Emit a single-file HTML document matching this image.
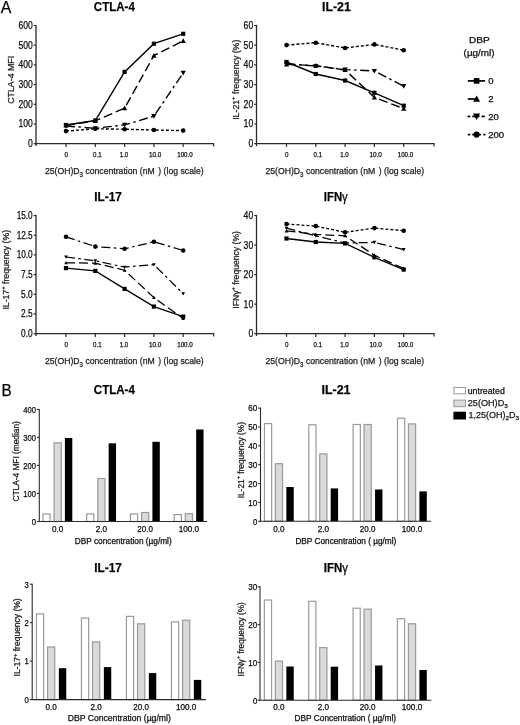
<!DOCTYPE html>
<html><head><meta charset="utf-8"><style>
html,body{margin:0;padding:0;background:#fff;}
body{width:520px;height:725px;overflow:hidden;font-family:"Liberation Sans",sans-serif;}
svg{display:block;will-change:transform;}
text{font-family:"Liberation Sans",sans-serif;stroke:#1a1a1a;stroke-width:0.25px;}
</style></head><body>
<svg width="520" height="725" viewBox="0 0 520 725" font-family="Liberation Sans, sans-serif">
<defs><pattern id="hatch" width="2" height="2" patternUnits="userSpaceOnUse"><rect width="2" height="2" fill="#e2e2e2"/><rect width="1" height="1" fill="#d2d2d2"/><rect x="1" y="1" width="1" height="1" fill="#d2d2d2"/></pattern></defs>
<rect width="520" height="725" fill="#fff"/>
<text x="0.70" y="12.80" font-size="16.2" textLength="10.60" lengthAdjust="spacingAndGlyphs">A</text>
<text x="1.40" y="395.70" font-size="15.8" textLength="10.20" lengthAdjust="spacingAndGlyphs">B</text>
<line x1="36.00" y1="24.90" x2="36.00" y2="146.10" stroke="#2b2b2b" stroke-width="1.3"/>
<line x1="35.40" y1="143.70" x2="213.60" y2="143.70" stroke="#2b2b2b" stroke-width="1.3"/>
<line x1="213.60" y1="143.10" x2="213.60" y2="146.50" stroke="#2b2b2b" stroke-width="1.2"/>
<line x1="33.70" y1="25.50" x2="36.00" y2="25.50" stroke="#2b2b2b" stroke-width="1.2"/>
<text x="32.70" y="28.95" font-size="10.0" text-anchor="end" textLength="14.20" lengthAdjust="spacingAndGlyphs">600</text>
<line x1="33.70" y1="45.20" x2="36.00" y2="45.20" stroke="#2b2b2b" stroke-width="1.2"/>
<text x="32.70" y="48.65" font-size="10.0" text-anchor="end" textLength="14.20" lengthAdjust="spacingAndGlyphs">500</text>
<line x1="33.70" y1="64.90" x2="36.00" y2="64.90" stroke="#2b2b2b" stroke-width="1.2"/>
<text x="32.70" y="68.35" font-size="10.0" text-anchor="end" textLength="14.20" lengthAdjust="spacingAndGlyphs">400</text>
<line x1="33.70" y1="84.60" x2="36.00" y2="84.60" stroke="#2b2b2b" stroke-width="1.2"/>
<text x="32.70" y="88.05" font-size="10.0" text-anchor="end" textLength="14.20" lengthAdjust="spacingAndGlyphs">300</text>
<line x1="33.70" y1="104.30" x2="36.00" y2="104.30" stroke="#2b2b2b" stroke-width="1.2"/>
<text x="32.70" y="107.75" font-size="10.0" text-anchor="end" textLength="14.20" lengthAdjust="spacingAndGlyphs">200</text>
<line x1="33.70" y1="124.00" x2="36.00" y2="124.00" stroke="#2b2b2b" stroke-width="1.2"/>
<text x="32.70" y="127.45" font-size="10.0" text-anchor="end" textLength="14.20" lengthAdjust="spacingAndGlyphs">100</text>
<line x1="33.70" y1="143.70" x2="36.00" y2="143.70" stroke="#2b2b2b" stroke-width="1.2"/>
<text x="32.70" y="147.15" font-size="10.0" text-anchor="end" textLength="4.80" lengthAdjust="spacingAndGlyphs">0</text>
<line x1="66.00" y1="143.70" x2="66.00" y2="146.90" stroke="#2b2b2b" stroke-width="1.2"/>
<text x="66.30" y="157.40" font-size="7.0" text-anchor="middle" textLength="3.50" lengthAdjust="spacingAndGlyphs">0</text>
<line x1="95.30" y1="143.70" x2="95.30" y2="146.90" stroke="#2b2b2b" stroke-width="1.2"/>
<text x="97.30" y="157.40" font-size="7.0" text-anchor="middle" textLength="8.50" lengthAdjust="spacingAndGlyphs">0.1</text>
<line x1="124.60" y1="143.70" x2="124.60" y2="146.90" stroke="#2b2b2b" stroke-width="1.2"/>
<text x="124.00" y="157.40" font-size="7.0" text-anchor="middle" textLength="8.50" lengthAdjust="spacingAndGlyphs">1.0</text>
<line x1="153.90" y1="143.70" x2="153.90" y2="146.90" stroke="#2b2b2b" stroke-width="1.2"/>
<text x="155.20" y="157.40" font-size="7.0" text-anchor="middle" textLength="12.50" lengthAdjust="spacingAndGlyphs">10.0</text>
<line x1="183.20" y1="143.70" x2="183.20" y2="146.90" stroke="#2b2b2b" stroke-width="1.2"/>
<text x="185.00" y="157.40" font-size="7.0" text-anchor="middle" textLength="15.60" lengthAdjust="spacingAndGlyphs">100.0</text>
<text x="44.90" y="173.90" font-size="9.6" textLength="158.7" lengthAdjust="spacingAndGlyphs" fill="#1a1a1a">25(OH)D<tspan font-size="6.8" dy="2.6">3</tspan><tspan dy="-2.6"> concentration (nM </tspan><tspan dx="1.3">) (log scale)</tspan></text>
<text x="13.7" y="103.8" font-size="8.7" textLength="48" lengthAdjust="spacingAndGlyphs" transform="rotate(-90 13.7 103.8)" fill="#1a1a1a">CTLA-4 MFI</text>
<text x="93.80" y="11.10" font-size="12.9" font-weight="bold" textLength="41.10" lengthAdjust="spacingAndGlyphs">CTLA-4</text>
<polyline points="66.00,125.30 95.30,120.80 124.60,108.20 153.90,55.60 183.20,40.80" fill="none" stroke="#000" stroke-width="1.4" stroke-dasharray="9 4"/>
<polygon points="63.40,127.38 68.60,127.38 66.00,122.70" fill="#000"/>
<polygon points="92.70,122.88 97.90,122.88 95.30,118.20" fill="#000"/>
<polygon points="122.00,110.28 127.20,110.28 124.60,105.60" fill="#000"/>
<polygon points="151.30,57.68 156.50,57.68 153.90,53.00" fill="#000"/>
<polygon points="180.60,42.88 185.80,42.88 183.20,38.20" fill="#000"/>
<polyline points="66.00,126.00 95.30,128.30 124.60,124.90 153.90,116.20 183.20,72.90" fill="none" stroke="#000" stroke-width="1.4" stroke-dasharray="9 3.5 2.5 3.5"/>
<polygon points="63.40,123.92 68.60,123.92 66.00,128.60" fill="#000"/>
<polygon points="92.70,126.22 97.90,126.22 95.30,130.90" fill="#000"/>
<polygon points="122.00,122.82 127.20,122.82 124.60,127.50" fill="#000"/>
<polygon points="151.30,114.12 156.50,114.12 153.90,118.80" fill="#000"/>
<polygon points="180.60,70.82 185.80,70.82 183.20,75.50" fill="#000"/>
<polyline points="66.00,131.10 95.30,128.80 124.60,129.20 153.90,130.00 183.20,130.60" fill="none" stroke="#000" stroke-width="1.4" stroke-dasharray="3 2"/>
<circle cx="66.00" cy="131.10" r="2.30" fill="#000"/>
<circle cx="95.30" cy="128.80" r="2.30" fill="#000"/>
<circle cx="124.60" cy="129.20" r="2.30" fill="#000"/>
<circle cx="153.90" cy="130.00" r="2.30" fill="#000"/>
<circle cx="183.20" cy="130.60" r="2.30" fill="#000"/>
<polyline points="66.00,125.00 95.30,120.50 124.60,71.90 153.90,43.70 183.20,33.80" fill="none" stroke="#000" stroke-width="1.4"/>
<rect x="63.90" y="122.90" width="4.20" height="4.20" fill="#000"/>
<rect x="93.20" y="118.40" width="4.20" height="4.20" fill="#000"/>
<rect x="122.50" y="69.80" width="4.20" height="4.20" fill="#000"/>
<rect x="151.80" y="41.60" width="4.20" height="4.20" fill="#000"/>
<rect x="181.10" y="31.70" width="4.20" height="4.20" fill="#000"/>
<line x1="256.50" y1="24.90" x2="256.50" y2="146.10" stroke="#2b2b2b" stroke-width="1.3"/>
<line x1="255.90" y1="143.70" x2="434.10" y2="143.70" stroke="#2b2b2b" stroke-width="1.3"/>
<line x1="434.10" y1="143.10" x2="434.10" y2="146.50" stroke="#2b2b2b" stroke-width="1.2"/>
<line x1="254.20" y1="25.50" x2="256.50" y2="25.50" stroke="#2b2b2b" stroke-width="1.2"/>
<text x="253.20" y="28.95" font-size="10.0" text-anchor="end" textLength="9.60" lengthAdjust="spacingAndGlyphs">60</text>
<line x1="254.20" y1="45.20" x2="256.50" y2="45.20" stroke="#2b2b2b" stroke-width="1.2"/>
<text x="253.20" y="48.65" font-size="10.0" text-anchor="end" textLength="9.60" lengthAdjust="spacingAndGlyphs">50</text>
<line x1="254.20" y1="64.90" x2="256.50" y2="64.90" stroke="#2b2b2b" stroke-width="1.2"/>
<text x="253.20" y="68.35" font-size="10.0" text-anchor="end" textLength="9.60" lengthAdjust="spacingAndGlyphs">40</text>
<line x1="254.20" y1="84.60" x2="256.50" y2="84.60" stroke="#2b2b2b" stroke-width="1.2"/>
<text x="253.20" y="88.05" font-size="10.0" text-anchor="end" textLength="9.60" lengthAdjust="spacingAndGlyphs">30</text>
<line x1="254.20" y1="104.30" x2="256.50" y2="104.30" stroke="#2b2b2b" stroke-width="1.2"/>
<text x="253.20" y="107.75" font-size="10.0" text-anchor="end" textLength="9.60" lengthAdjust="spacingAndGlyphs">20</text>
<line x1="254.20" y1="124.00" x2="256.50" y2="124.00" stroke="#2b2b2b" stroke-width="1.2"/>
<text x="253.20" y="127.45" font-size="10.0" text-anchor="end" textLength="9.60" lengthAdjust="spacingAndGlyphs">10</text>
<line x1="254.20" y1="143.70" x2="256.50" y2="143.70" stroke="#2b2b2b" stroke-width="1.2"/>
<text x="253.20" y="147.15" font-size="10.0" text-anchor="end" textLength="4.80" lengthAdjust="spacingAndGlyphs">0</text>
<line x1="286.50" y1="143.70" x2="286.50" y2="146.90" stroke="#2b2b2b" stroke-width="1.2"/>
<text x="286.80" y="157.40" font-size="7.0" text-anchor="middle" textLength="3.50" lengthAdjust="spacingAndGlyphs">0</text>
<line x1="315.80" y1="143.70" x2="315.80" y2="146.90" stroke="#2b2b2b" stroke-width="1.2"/>
<text x="317.80" y="157.40" font-size="7.0" text-anchor="middle" textLength="8.50" lengthAdjust="spacingAndGlyphs">0.1</text>
<line x1="345.10" y1="143.70" x2="345.10" y2="146.90" stroke="#2b2b2b" stroke-width="1.2"/>
<text x="344.50" y="157.40" font-size="7.0" text-anchor="middle" textLength="8.50" lengthAdjust="spacingAndGlyphs">1.0</text>
<line x1="374.40" y1="143.70" x2="374.40" y2="146.90" stroke="#2b2b2b" stroke-width="1.2"/>
<text x="375.70" y="157.40" font-size="7.0" text-anchor="middle" textLength="12.50" lengthAdjust="spacingAndGlyphs">10.0</text>
<line x1="403.70" y1="143.70" x2="403.70" y2="146.90" stroke="#2b2b2b" stroke-width="1.2"/>
<text x="405.50" y="157.40" font-size="7.0" text-anchor="middle" textLength="15.60" lengthAdjust="spacingAndGlyphs">100.0</text>
<text x="265.40" y="173.90" font-size="9.6" textLength="158.7" lengthAdjust="spacingAndGlyphs" fill="#1a1a1a">25(OH)D<tspan font-size="6.8" dy="2.6">3</tspan><tspan dy="-2.6"> concentration (nM </tspan><tspan dx="1.3">) (log scale)</tspan></text>
<text x="239.3" y="119.8" font-size="8.7" textLength="80.1" lengthAdjust="spacingAndGlyphs" transform="rotate(-90 239.3 119.8)" fill="#1a1a1a">IL-21<tspan font-size="5.9" dy="-4.0">+</tspan><tspan dy="4.0"> frequency (%)</tspan></text>
<text x="322.00" y="11.10" font-size="12.9" font-weight="bold" textLength="28.80" lengthAdjust="spacingAndGlyphs">IL-21</text>
<polyline points="286.50,64.30 315.80,65.70 345.10,70.00 374.40,97.30 403.70,108.60" fill="none" stroke="#000" stroke-width="1.4" stroke-dasharray="9 4"/>
<polygon points="283.90,66.38 289.10,66.38 286.50,61.70" fill="#000"/>
<polygon points="313.20,67.78 318.40,67.78 315.80,63.10" fill="#000"/>
<polygon points="342.50,72.08 347.70,72.08 345.10,67.40" fill="#000"/>
<polygon points="371.80,99.38 377.00,99.38 374.40,94.70" fill="#000"/>
<polygon points="401.10,110.68 406.30,110.68 403.70,106.00" fill="#000"/>
<polyline points="286.50,63.80 315.80,66.00 345.10,69.60 374.40,71.00 403.70,86.20" fill="none" stroke="#000" stroke-width="1.4" stroke-dasharray="9 3.5 2.5 3.5"/>
<polygon points="283.90,61.72 289.10,61.72 286.50,66.40" fill="#000"/>
<polygon points="313.20,63.92 318.40,63.92 315.80,68.60" fill="#000"/>
<polygon points="342.50,67.52 347.70,67.52 345.10,72.20" fill="#000"/>
<polygon points="371.80,68.92 377.00,68.92 374.40,73.60" fill="#000"/>
<polygon points="401.10,84.12 406.30,84.12 403.70,88.80" fill="#000"/>
<polyline points="286.50,45.10 315.80,42.70 345.10,48.00 374.40,44.40 403.70,50.20" fill="none" stroke="#000" stroke-width="1.4" stroke-dasharray="3 2"/>
<circle cx="286.50" cy="45.10" r="2.30" fill="#000"/>
<circle cx="315.80" cy="42.70" r="2.30" fill="#000"/>
<circle cx="345.10" cy="48.00" r="2.30" fill="#000"/>
<circle cx="374.40" cy="44.40" r="2.30" fill="#000"/>
<circle cx="403.70" cy="50.20" r="2.30" fill="#000"/>
<polyline points="286.50,62.00 315.80,74.00 345.10,80.50 374.40,92.80 403.70,105.70" fill="none" stroke="#000" stroke-width="1.4"/>
<rect x="284.40" y="59.90" width="4.20" height="4.20" fill="#000"/>
<rect x="313.70" y="71.90" width="4.20" height="4.20" fill="#000"/>
<rect x="343.00" y="78.40" width="4.20" height="4.20" fill="#000"/>
<rect x="372.30" y="90.70" width="4.20" height="4.20" fill="#000"/>
<rect x="401.60" y="103.60" width="4.20" height="4.20" fill="#000"/>
<line x1="36.00" y1="214.90" x2="36.00" y2="336.10" stroke="#2b2b2b" stroke-width="1.3"/>
<line x1="35.40" y1="333.70" x2="213.60" y2="333.70" stroke="#2b2b2b" stroke-width="1.3"/>
<line x1="213.60" y1="333.10" x2="213.60" y2="336.50" stroke="#2b2b2b" stroke-width="1.2"/>
<line x1="33.70" y1="215.50" x2="36.00" y2="215.50" stroke="#2b2b2b" stroke-width="1.2"/>
<text x="32.70" y="218.95" font-size="10.0" text-anchor="end" textLength="16.00" lengthAdjust="spacingAndGlyphs">15.0</text>
<line x1="33.70" y1="235.20" x2="36.00" y2="235.20" stroke="#2b2b2b" stroke-width="1.2"/>
<text x="32.70" y="238.65" font-size="10.0" text-anchor="end" textLength="16.00" lengthAdjust="spacingAndGlyphs">12.5</text>
<line x1="33.70" y1="254.90" x2="36.00" y2="254.90" stroke="#2b2b2b" stroke-width="1.2"/>
<text x="32.70" y="258.35" font-size="10.0" text-anchor="end" textLength="16.00" lengthAdjust="spacingAndGlyphs">10.0</text>
<line x1="33.70" y1="274.60" x2="36.00" y2="274.60" stroke="#2b2b2b" stroke-width="1.2"/>
<text x="32.70" y="278.05" font-size="10.0" text-anchor="end" textLength="11.60" lengthAdjust="spacingAndGlyphs">7.5</text>
<line x1="33.70" y1="294.30" x2="36.00" y2="294.30" stroke="#2b2b2b" stroke-width="1.2"/>
<text x="32.70" y="297.75" font-size="10.0" text-anchor="end" textLength="11.60" lengthAdjust="spacingAndGlyphs">5.0</text>
<line x1="33.70" y1="314.00" x2="36.00" y2="314.00" stroke="#2b2b2b" stroke-width="1.2"/>
<text x="32.70" y="317.45" font-size="10.0" text-anchor="end" textLength="11.60" lengthAdjust="spacingAndGlyphs">2.5</text>
<line x1="33.70" y1="333.70" x2="36.00" y2="333.70" stroke="#2b2b2b" stroke-width="1.2"/>
<text x="32.70" y="337.15" font-size="10.0" text-anchor="end" textLength="11.60" lengthAdjust="spacingAndGlyphs">0.0</text>
<line x1="66.00" y1="333.70" x2="66.00" y2="336.90" stroke="#2b2b2b" stroke-width="1.2"/>
<text x="66.30" y="347.40" font-size="7.0" text-anchor="middle" textLength="3.50" lengthAdjust="spacingAndGlyphs">0</text>
<line x1="95.30" y1="333.70" x2="95.30" y2="336.90" stroke="#2b2b2b" stroke-width="1.2"/>
<text x="97.30" y="347.40" font-size="7.0" text-anchor="middle" textLength="8.50" lengthAdjust="spacingAndGlyphs">0.1</text>
<line x1="124.60" y1="333.70" x2="124.60" y2="336.90" stroke="#2b2b2b" stroke-width="1.2"/>
<text x="124.00" y="347.40" font-size="7.0" text-anchor="middle" textLength="8.50" lengthAdjust="spacingAndGlyphs">1.0</text>
<line x1="153.90" y1="333.70" x2="153.90" y2="336.90" stroke="#2b2b2b" stroke-width="1.2"/>
<text x="155.20" y="347.40" font-size="7.0" text-anchor="middle" textLength="12.50" lengthAdjust="spacingAndGlyphs">10.0</text>
<line x1="183.20" y1="333.70" x2="183.20" y2="336.90" stroke="#2b2b2b" stroke-width="1.2"/>
<text x="185.00" y="347.40" font-size="7.0" text-anchor="middle" textLength="15.60" lengthAdjust="spacingAndGlyphs">100.0</text>
<text x="44.90" y="363.90" font-size="9.6" textLength="158.7" lengthAdjust="spacingAndGlyphs" fill="#1a1a1a">25(OH)D<tspan font-size="6.8" dy="2.6">3</tspan><tspan dy="-2.6"> concentration (nM </tspan><tspan dx="1.3">) (log scale)</tspan></text>
<text x="9.5" y="309.6" font-size="8.7" textLength="79.7" lengthAdjust="spacingAndGlyphs" transform="rotate(-90 9.5 309.6)" fill="#1a1a1a">IL-17<tspan font-size="5.9" dy="-4.0">+</tspan><tspan dy="4.0"> frequency (%)</tspan></text>
<text x="94.20" y="201.10" font-size="12.9" font-weight="bold" textLength="27.60" lengthAdjust="spacingAndGlyphs">IL-17</text>
<polyline points="66.00,262.80 95.30,263.20 124.60,270.20 153.90,297.60 183.20,318.60" fill="none" stroke="#000" stroke-width="1.25" stroke-dasharray="9 4"/>
<polygon points="64.18,264.26 67.82,264.26 66.00,260.98" fill="#000"/>
<polygon points="93.48,264.66 97.12,264.66 95.30,261.38" fill="#000"/>
<polygon points="122.78,271.66 126.42,271.66 124.60,268.38" fill="#000"/>
<polygon points="152.08,299.06 155.72,299.06 153.90,295.78" fill="#000"/>
<polygon points="181.38,320.06 185.02,320.06 183.20,316.78" fill="#000"/>
<polyline points="66.00,257.00 95.30,260.80 124.60,267.10 153.90,264.60 183.20,293.70" fill="none" stroke="#000" stroke-width="1.25" stroke-dasharray="9 3.5 2.5 3.5"/>
<polygon points="64.18,255.54 67.82,255.54 66.00,258.82" fill="#000"/>
<polygon points="93.48,259.34 97.12,259.34 95.30,262.62" fill="#000"/>
<polygon points="122.78,265.64 126.42,265.64 124.60,268.92" fill="#000"/>
<polygon points="152.08,263.14 155.72,263.14 153.90,266.42" fill="#000"/>
<polygon points="181.38,292.24 185.02,292.24 183.20,295.52" fill="#000"/>
<polyline points="66.00,236.80 95.30,246.60 124.60,248.80 153.90,241.80 183.20,250.50" fill="none" stroke="#000" stroke-width="1.25" stroke-dasharray="9 3.5 2.5 3.5"/>
<circle cx="66.00" cy="236.80" r="2.30" fill="#000"/>
<circle cx="95.30" cy="246.60" r="2.30" fill="#000"/>
<circle cx="124.60" cy="248.80" r="2.30" fill="#000"/>
<circle cx="153.90" cy="241.80" r="2.30" fill="#000"/>
<circle cx="183.20" cy="250.50" r="2.30" fill="#000"/>
<polyline points="66.00,268.10 95.30,270.90 124.60,288.90 153.90,306.60 183.20,316.60" fill="none" stroke="#000" stroke-width="1.25"/>
<rect x="63.90" y="266.00" width="4.20" height="4.20" fill="#000"/>
<rect x="93.20" y="268.80" width="4.20" height="4.20" fill="#000"/>
<rect x="122.50" y="286.80" width="4.20" height="4.20" fill="#000"/>
<rect x="151.80" y="304.50" width="4.20" height="4.20" fill="#000"/>
<rect x="181.10" y="314.50" width="4.20" height="4.20" fill="#000"/>
<line x1="256.50" y1="214.90" x2="256.50" y2="336.10" stroke="#2b2b2b" stroke-width="1.3"/>
<line x1="255.90" y1="333.70" x2="434.10" y2="333.70" stroke="#2b2b2b" stroke-width="1.3"/>
<line x1="434.10" y1="333.10" x2="434.10" y2="336.50" stroke="#2b2b2b" stroke-width="1.2"/>
<line x1="254.20" y1="215.50" x2="256.50" y2="215.50" stroke="#2b2b2b" stroke-width="1.2"/>
<text x="253.20" y="218.95" font-size="10.0" text-anchor="end" textLength="9.60" lengthAdjust="spacingAndGlyphs">40</text>
<line x1="254.20" y1="245.05" x2="256.50" y2="245.05" stroke="#2b2b2b" stroke-width="1.2"/>
<text x="253.20" y="248.50" font-size="10.0" text-anchor="end" textLength="9.60" lengthAdjust="spacingAndGlyphs">30</text>
<line x1="254.20" y1="274.60" x2="256.50" y2="274.60" stroke="#2b2b2b" stroke-width="1.2"/>
<text x="253.20" y="278.05" font-size="10.0" text-anchor="end" textLength="9.60" lengthAdjust="spacingAndGlyphs">20</text>
<line x1="254.20" y1="304.15" x2="256.50" y2="304.15" stroke="#2b2b2b" stroke-width="1.2"/>
<text x="253.20" y="307.60" font-size="10.0" text-anchor="end" textLength="9.60" lengthAdjust="spacingAndGlyphs">10</text>
<line x1="254.20" y1="333.70" x2="256.50" y2="333.70" stroke="#2b2b2b" stroke-width="1.2"/>
<text x="253.20" y="337.15" font-size="10.0" text-anchor="end" textLength="4.80" lengthAdjust="spacingAndGlyphs">0</text>
<line x1="286.50" y1="333.70" x2="286.50" y2="336.90" stroke="#2b2b2b" stroke-width="1.2"/>
<text x="286.80" y="347.40" font-size="7.0" text-anchor="middle" textLength="3.50" lengthAdjust="spacingAndGlyphs">0</text>
<line x1="315.80" y1="333.70" x2="315.80" y2="336.90" stroke="#2b2b2b" stroke-width="1.2"/>
<text x="317.80" y="347.40" font-size="7.0" text-anchor="middle" textLength="8.50" lengthAdjust="spacingAndGlyphs">0.1</text>
<line x1="345.10" y1="333.70" x2="345.10" y2="336.90" stroke="#2b2b2b" stroke-width="1.2"/>
<text x="344.50" y="347.40" font-size="7.0" text-anchor="middle" textLength="8.50" lengthAdjust="spacingAndGlyphs">1.0</text>
<line x1="374.40" y1="333.70" x2="374.40" y2="336.90" stroke="#2b2b2b" stroke-width="1.2"/>
<text x="375.70" y="347.40" font-size="7.0" text-anchor="middle" textLength="12.50" lengthAdjust="spacingAndGlyphs">10.0</text>
<line x1="403.70" y1="333.70" x2="403.70" y2="336.90" stroke="#2b2b2b" stroke-width="1.2"/>
<text x="405.50" y="347.40" font-size="7.0" text-anchor="middle" textLength="15.60" lengthAdjust="spacingAndGlyphs">100.0</text>
<text x="265.40" y="363.90" font-size="9.6" textLength="158.7" lengthAdjust="spacingAndGlyphs" fill="#1a1a1a">25(OH)D<tspan font-size="6.8" dy="2.6">3</tspan><tspan dy="-2.6"> concentration (nM </tspan><tspan dx="1.3">) (log scale)</tspan></text>
<text x="239.0" y="308.7" font-size="8.7" textLength="77.7" lengthAdjust="spacingAndGlyphs" transform="rotate(-90 239.0 308.7)" fill="#1a1a1a">IFN&#947;<tspan font-size="5.9" dy="-4.0">+</tspan><tspan dy="4.0"> frequency (%)</tspan></text>
<text x="323.80" y="201.10" font-size="12.9" font-weight="bold" textLength="24.00" lengthAdjust="spacingAndGlyphs">IFN<tspan font-weight="normal">&#947;</tspan></text>
<polyline points="286.50,230.90 315.80,234.40 345.10,235.80 374.40,255.30 403.70,268.50" fill="none" stroke="#000" stroke-width="1.3" stroke-dasharray="9 4"/>
<polygon points="284.55,232.46 288.45,232.46 286.50,228.95" fill="#000"/>
<polygon points="313.85,235.96 317.75,235.96 315.80,232.45" fill="#000"/>
<polygon points="343.15,237.36 347.05,237.36 345.10,233.85" fill="#000"/>
<polygon points="372.45,256.86 376.35,256.86 374.40,253.35" fill="#000"/>
<polygon points="401.75,270.06 405.65,270.06 403.70,266.55" fill="#000"/>
<polyline points="286.50,228.20 315.80,235.80 345.10,243.00 374.40,242.40 403.70,249.60" fill="none" stroke="#000" stroke-width="1.3" stroke-dasharray="9 3.5 2.5 3.5"/>
<polygon points="284.55,226.64 288.45,226.64 286.50,230.15" fill="#000"/>
<polygon points="313.85,234.24 317.75,234.24 315.80,237.75" fill="#000"/>
<polygon points="343.15,241.44 347.05,241.44 345.10,244.95" fill="#000"/>
<polygon points="372.45,240.84 376.35,240.84 374.40,244.35" fill="#000"/>
<polygon points="401.75,248.04 405.65,248.04 403.70,251.55" fill="#000"/>
<polyline points="286.50,224.00 315.80,226.10 345.10,232.30 374.40,228.10 403.70,230.70" fill="none" stroke="#000" stroke-width="1.3" stroke-dasharray="3 2"/>
<circle cx="286.50" cy="224.00" r="2.30" fill="#000"/>
<circle cx="315.80" cy="226.10" r="2.30" fill="#000"/>
<circle cx="345.10" cy="232.30" r="2.30" fill="#000"/>
<circle cx="374.40" cy="228.10" r="2.30" fill="#000"/>
<circle cx="403.70" cy="230.70" r="2.30" fill="#000"/>
<polyline points="286.50,238.50 315.80,242.00 345.10,243.40 374.40,257.30 403.70,269.60" fill="none" stroke="#000" stroke-width="1.3"/>
<rect x="284.40" y="236.40" width="4.20" height="4.20" fill="#000"/>
<rect x="313.70" y="239.90" width="4.20" height="4.20" fill="#000"/>
<rect x="343.00" y="241.30" width="4.20" height="4.20" fill="#000"/>
<rect x="372.30" y="255.20" width="4.20" height="4.20" fill="#000"/>
<rect x="401.60" y="267.50" width="4.20" height="4.20" fill="#000"/>
<text x="469.00" y="43.30" font-size="9.6" textLength="20.80" lengthAdjust="spacingAndGlyphs">DBP</text>
<text x="463.60" y="56.20" font-size="9.6" textLength="30.90" lengthAdjust="spacingAndGlyphs">(&#181;g/ml)</text>
<line x1="467.80" y1="80.90" x2="485.10" y2="80.90" stroke="#000" stroke-width="1.7"/>
<rect x="473.77" y="78.07" width="5.67" height="5.67" fill="#000"/>
<text x="488.20" y="84.30" font-size="9.6">0</text>
<line x1="467.80" y1="99.00" x2="476.50" y2="99.00" stroke="#000" stroke-width="1.7"/>
<polygon points="473.09,101.81 480.11,101.81 476.60,95.49" fill="#000"/>
<text x="488.20" y="102.40" font-size="9.6">2</text>
<line x1="467.50" y1="116.40" x2="470.30" y2="116.40" stroke="#000" stroke-width="1.7"/>
<line x1="472.20" y1="116.40" x2="479.50" y2="116.40" stroke="#000" stroke-width="1.7"/>
<line x1="481.50" y1="116.40" x2="484.80" y2="116.40" stroke="#000" stroke-width="1.7"/>
<polygon points="473.09,113.59 480.11,113.59 476.60,119.91" fill="#000"/>
<text x="488.20" y="119.80" font-size="9.6">20</text>
<line x1="467.80" y1="134.60" x2="470.30" y2="134.60" stroke="#000" stroke-width="1.7"/>
<line x1="472.20" y1="134.60" x2="481.00" y2="134.60" stroke="#000" stroke-width="1.7"/>
<line x1="483.30" y1="134.60" x2="485.50" y2="134.60" stroke="#000" stroke-width="1.7"/>
<circle cx="476.60" cy="134.60" r="3.10" fill="#000"/>
<text x="488.20" y="138.00" font-size="9.6">200</text>
<rect x="42.90" y="514.00" width="7.20" height="7.50" fill="#fff" stroke="#9a9a9a" stroke-width="1.2"/>
<rect x="54.05" y="442.80" width="7.20" height="78.70" fill="url(#hatch)" stroke="#9a9a9a" stroke-width="1.2"/>
<rect x="64.90" y="438.00" width="7.40" height="83.50" fill="#000"/>
<rect x="86.65" y="514.00" width="7.20" height="7.50" fill="#fff" stroke="#9a9a9a" stroke-width="1.2"/>
<rect x="97.80" y="478.50" width="7.20" height="43.00" fill="url(#hatch)" stroke="#9a9a9a" stroke-width="1.2"/>
<rect x="108.65" y="443.30" width="7.40" height="78.20" fill="#000"/>
<rect x="130.40" y="514.00" width="7.20" height="7.50" fill="#fff" stroke="#9a9a9a" stroke-width="1.2"/>
<rect x="141.55" y="512.50" width="7.20" height="9.00" fill="url(#hatch)" stroke="#9a9a9a" stroke-width="1.2"/>
<rect x="152.40" y="441.80" width="7.40" height="79.70" fill="#000"/>
<rect x="174.15" y="514.60" width="7.20" height="6.90" fill="#fff" stroke="#9a9a9a" stroke-width="1.2"/>
<rect x="185.30" y="513.70" width="7.20" height="7.80" fill="url(#hatch)" stroke="#9a9a9a" stroke-width="1.2"/>
<rect x="196.15" y="429.50" width="7.40" height="92.00" fill="#000"/>
<line x1="39.30" y1="408.90" x2="39.30" y2="522.00" stroke="#2b2b2b" stroke-width="1.1"/>
<line x1="38.80" y1="521.50" x2="207.20" y2="521.50" stroke="#2b2b2b" stroke-width="1.1"/>
<line x1="36.90" y1="409.40" x2="39.30" y2="409.40" stroke="#2b2b2b" stroke-width="1.1"/>
<text x="36.00" y="412.70" font-size="8.4" text-anchor="end" textLength="12.70" lengthAdjust="spacingAndGlyphs">400</text>
<line x1="36.90" y1="437.42" x2="39.30" y2="437.42" stroke="#2b2b2b" stroke-width="1.1"/>
<text x="36.00" y="440.72" font-size="8.4" text-anchor="end" textLength="12.70" lengthAdjust="spacingAndGlyphs">300</text>
<line x1="36.90" y1="465.45" x2="39.30" y2="465.45" stroke="#2b2b2b" stroke-width="1.1"/>
<text x="36.00" y="468.75" font-size="8.4" text-anchor="end" textLength="12.70" lengthAdjust="spacingAndGlyphs">200</text>
<line x1="36.90" y1="493.48" x2="39.30" y2="493.48" stroke="#2b2b2b" stroke-width="1.1"/>
<text x="36.00" y="496.78" font-size="8.4" text-anchor="end" textLength="12.70" lengthAdjust="spacingAndGlyphs">100</text>
<line x1="36.90" y1="521.50" x2="39.30" y2="521.50" stroke="#2b2b2b" stroke-width="1.1"/>
<text x="36.00" y="524.80" font-size="8.4" text-anchor="end" textLength="4.30" lengthAdjust="spacingAndGlyphs">0</text>
<text x="57.65" y="531.50" font-size="8.2" text-anchor="middle" textLength="11.30" lengthAdjust="spacingAndGlyphs">0.0</text>
<text x="101.40" y="531.50" font-size="8.2" text-anchor="middle" textLength="11.30" lengthAdjust="spacingAndGlyphs">2.0</text>
<text x="145.15" y="531.50" font-size="8.2" text-anchor="middle" textLength="15.60" lengthAdjust="spacingAndGlyphs">20.0</text>
<text x="188.90" y="531.50" font-size="8.2" text-anchor="middle" textLength="20.40" lengthAdjust="spacingAndGlyphs">100.0</text>
<text x="74.80" y="543.90" font-size="8.2" textLength="96.90" lengthAdjust="spacingAndGlyphs">DBP concentration (&#181;g/ml)</text>
<text x="18.7" y="501.5" font-size="8.2" textLength="80.3" lengthAdjust="spacingAndGlyphs" transform="rotate(-90 18.7 501.5)" fill="#1a1a1a">CTLA-4 MFI (median)</text>
<text x="93.80" y="394.40" font-size="12.2" font-weight="bold" textLength="41.10" lengthAdjust="spacingAndGlyphs">CTLA-4</text>
<rect x="264.45" y="423.60" width="7.20" height="97.70" fill="#fff" stroke="#9a9a9a" stroke-width="1.2"/>
<rect x="275.35" y="463.70" width="7.20" height="57.60" fill="url(#hatch)" stroke="#9a9a9a" stroke-width="1.2"/>
<rect x="286.35" y="487.00" width="7.40" height="34.30" fill="#000"/>
<rect x="308.80" y="424.80" width="7.20" height="96.50" fill="#fff" stroke="#9a9a9a" stroke-width="1.2"/>
<rect x="319.70" y="453.90" width="7.20" height="67.40" fill="url(#hatch)" stroke="#9a9a9a" stroke-width="1.2"/>
<rect x="330.70" y="488.40" width="7.40" height="32.90" fill="#000"/>
<rect x="353.15" y="424.50" width="7.20" height="96.80" fill="#fff" stroke="#9a9a9a" stroke-width="1.2"/>
<rect x="364.05" y="424.50" width="7.20" height="96.80" fill="url(#hatch)" stroke="#9a9a9a" stroke-width="1.2"/>
<rect x="375.05" y="489.50" width="7.40" height="31.80" fill="#000"/>
<rect x="397.50" y="418.20" width="7.20" height="103.10" fill="#fff" stroke="#9a9a9a" stroke-width="1.2"/>
<rect x="408.40" y="423.90" width="7.20" height="97.40" fill="url(#hatch)" stroke="#9a9a9a" stroke-width="1.2"/>
<rect x="419.40" y="491.40" width="7.40" height="29.90" fill="#000"/>
<line x1="260.50" y1="407.60" x2="260.50" y2="521.80" stroke="#2b2b2b" stroke-width="1.1"/>
<line x1="260.00" y1="521.30" x2="431.10" y2="521.30" stroke="#2b2b2b" stroke-width="1.1"/>
<line x1="258.10" y1="408.10" x2="260.50" y2="408.10" stroke="#2b2b2b" stroke-width="1.1"/>
<text x="257.30" y="411.40" font-size="8.4" text-anchor="end" textLength="9.00" lengthAdjust="spacingAndGlyphs">60</text>
<line x1="258.10" y1="426.97" x2="260.50" y2="426.97" stroke="#2b2b2b" stroke-width="1.1"/>
<text x="257.30" y="430.27" font-size="8.4" text-anchor="end" textLength="9.00" lengthAdjust="spacingAndGlyphs">50</text>
<line x1="258.10" y1="445.83" x2="260.50" y2="445.83" stroke="#2b2b2b" stroke-width="1.1"/>
<text x="257.30" y="449.13" font-size="8.4" text-anchor="end" textLength="9.00" lengthAdjust="spacingAndGlyphs">40</text>
<line x1="258.10" y1="464.70" x2="260.50" y2="464.70" stroke="#2b2b2b" stroke-width="1.1"/>
<text x="257.30" y="468.00" font-size="8.4" text-anchor="end" textLength="9.00" lengthAdjust="spacingAndGlyphs">30</text>
<line x1="258.10" y1="483.57" x2="260.50" y2="483.57" stroke="#2b2b2b" stroke-width="1.1"/>
<text x="257.30" y="486.87" font-size="8.4" text-anchor="end" textLength="9.00" lengthAdjust="spacingAndGlyphs">20</text>
<line x1="258.10" y1="502.43" x2="260.50" y2="502.43" stroke="#2b2b2b" stroke-width="1.1"/>
<text x="257.30" y="505.73" font-size="8.4" text-anchor="end" textLength="9.00" lengthAdjust="spacingAndGlyphs">10</text>
<line x1="258.10" y1="521.30" x2="260.50" y2="521.30" stroke="#2b2b2b" stroke-width="1.1"/>
<text x="257.30" y="524.60" font-size="8.4" text-anchor="end" textLength="4.30" lengthAdjust="spacingAndGlyphs">0</text>
<text x="278.95" y="531.90" font-size="8.2" text-anchor="middle" textLength="11.30" lengthAdjust="spacingAndGlyphs">0.0</text>
<text x="323.30" y="531.90" font-size="8.2" text-anchor="middle" textLength="11.30" lengthAdjust="spacingAndGlyphs">2.0</text>
<text x="367.65" y="531.90" font-size="8.2" text-anchor="middle" textLength="15.60" lengthAdjust="spacingAndGlyphs">20.0</text>
<text x="412.00" y="531.90" font-size="8.2" text-anchor="middle" textLength="20.40" lengthAdjust="spacingAndGlyphs">100.0</text>
<text x="295.40" y="543.90" font-size="8.2" textLength="100.90" lengthAdjust="spacingAndGlyphs">DBP Concentration ( &#181;g/ml)</text>
<text x="244.1" y="498.3" font-size="8.2" textLength="76.3" lengthAdjust="spacingAndGlyphs" transform="rotate(-90 244.1 498.3)" fill="#1a1a1a">IL-21<tspan font-size="5.6" dy="-3.8">+</tspan><tspan dy="3.8"> frequency (%)</tspan></text>
<text x="321.50" y="394.40" font-size="12.2" font-weight="bold" textLength="29.00" lengthAdjust="spacingAndGlyphs">IL-21</text>
<rect x="36.45" y="613.90" width="7.20" height="85.70" fill="#fff" stroke="#9a9a9a" stroke-width="1.2"/>
<rect x="47.55" y="647.00" width="7.20" height="52.60" fill="url(#hatch)" stroke="#9a9a9a" stroke-width="1.2"/>
<rect x="58.85" y="668.20" width="7.40" height="31.40" fill="#000"/>
<rect x="81.45" y="618.00" width="7.20" height="81.60" fill="#fff" stroke="#9a9a9a" stroke-width="1.2"/>
<rect x="92.55" y="641.90" width="7.20" height="57.70" fill="url(#hatch)" stroke="#9a9a9a" stroke-width="1.2"/>
<rect x="103.85" y="667.10" width="7.40" height="32.50" fill="#000"/>
<rect x="126.45" y="616.40" width="7.20" height="83.20" fill="#fff" stroke="#9a9a9a" stroke-width="1.2"/>
<rect x="137.55" y="623.80" width="7.20" height="75.80" fill="url(#hatch)" stroke="#9a9a9a" stroke-width="1.2"/>
<rect x="148.85" y="673.10" width="7.40" height="26.50" fill="#000"/>
<rect x="171.45" y="621.90" width="7.20" height="77.70" fill="#fff" stroke="#9a9a9a" stroke-width="1.2"/>
<rect x="182.55" y="620.20" width="7.20" height="79.40" fill="url(#hatch)" stroke="#9a9a9a" stroke-width="1.2"/>
<rect x="193.85" y="679.90" width="7.40" height="19.70" fill="#000"/>
<line x1="32.20" y1="583.70" x2="32.20" y2="700.10" stroke="#2b2b2b" stroke-width="1.1"/>
<line x1="31.70" y1="699.60" x2="205.80" y2="699.60" stroke="#2b2b2b" stroke-width="1.1"/>
<line x1="29.80" y1="584.20" x2="32.20" y2="584.20" stroke="#2b2b2b" stroke-width="1.1"/>
<text x="28.80" y="587.50" font-size="8.4" text-anchor="end" textLength="4.30" lengthAdjust="spacingAndGlyphs">3</text>
<line x1="29.80" y1="622.67" x2="32.20" y2="622.67" stroke="#2b2b2b" stroke-width="1.1"/>
<text x="28.80" y="625.97" font-size="8.4" text-anchor="end" textLength="4.30" lengthAdjust="spacingAndGlyphs">2</text>
<line x1="29.80" y1="661.13" x2="32.20" y2="661.13" stroke="#2b2b2b" stroke-width="1.1"/>
<text x="28.80" y="664.43" font-size="8.4" text-anchor="end" textLength="4.30" lengthAdjust="spacingAndGlyphs">1</text>
<line x1="29.80" y1="699.60" x2="32.20" y2="699.60" stroke="#2b2b2b" stroke-width="1.1"/>
<text x="28.80" y="702.90" font-size="8.4" text-anchor="end" textLength="4.30" lengthAdjust="spacingAndGlyphs">0</text>
<text x="51.15" y="710.40" font-size="8.2" text-anchor="middle" textLength="11.30" lengthAdjust="spacingAndGlyphs">0.0</text>
<text x="96.15" y="710.40" font-size="8.2" text-anchor="middle" textLength="11.30" lengthAdjust="spacingAndGlyphs">2.0</text>
<text x="141.15" y="710.40" font-size="8.2" text-anchor="middle" textLength="15.60" lengthAdjust="spacingAndGlyphs">20.0</text>
<text x="186.15" y="710.40" font-size="8.2" text-anchor="middle" textLength="20.40" lengthAdjust="spacingAndGlyphs">100.0</text>
<text x="67.70" y="721.20" font-size="8.2" textLength="103.10" lengthAdjust="spacingAndGlyphs">DBP Concentration (&#181;g/ml)</text>
<text x="20.4" y="676.4" font-size="8.2" textLength="78.1" lengthAdjust="spacingAndGlyphs" transform="rotate(-90 20.4 676.4)" fill="#1a1a1a">IL-17<tspan font-size="5.6" dy="-3.8">+</tspan><tspan dy="3.8"> frequency (%)</tspan></text>
<text x="94.20" y="571.70" font-size="12.2" font-weight="bold" textLength="27.60" lengthAdjust="spacingAndGlyphs">IL-17</text>
<rect x="264.35" y="600.00" width="7.20" height="100.20" fill="#fff" stroke="#9a9a9a" stroke-width="1.2"/>
<rect x="275.35" y="661.10" width="7.20" height="39.10" fill="url(#hatch)" stroke="#9a9a9a" stroke-width="1.2"/>
<rect x="286.35" y="666.50" width="7.40" height="33.70" fill="#000"/>
<rect x="308.70" y="601.30" width="7.20" height="98.90" fill="#fff" stroke="#9a9a9a" stroke-width="1.2"/>
<rect x="319.70" y="647.60" width="7.20" height="52.60" fill="url(#hatch)" stroke="#9a9a9a" stroke-width="1.2"/>
<rect x="330.70" y="666.70" width="7.40" height="33.50" fill="#000"/>
<rect x="353.05" y="608.20" width="7.20" height="92.00" fill="#fff" stroke="#9a9a9a" stroke-width="1.2"/>
<rect x="364.05" y="609.20" width="7.20" height="91.00" fill="url(#hatch)" stroke="#9a9a9a" stroke-width="1.2"/>
<rect x="375.05" y="665.50" width="7.40" height="34.70" fill="#000"/>
<rect x="397.40" y="618.70" width="7.20" height="81.50" fill="#fff" stroke="#9a9a9a" stroke-width="1.2"/>
<rect x="408.40" y="623.80" width="7.20" height="76.40" fill="url(#hatch)" stroke="#9a9a9a" stroke-width="1.2"/>
<rect x="419.40" y="670.00" width="7.40" height="30.20" fill="#000"/>
<line x1="260.00" y1="586.30" x2="260.00" y2="700.70" stroke="#2b2b2b" stroke-width="1.1"/>
<line x1="259.50" y1="700.20" x2="431.30" y2="700.20" stroke="#2b2b2b" stroke-width="1.1"/>
<line x1="257.60" y1="586.80" x2="260.00" y2="586.80" stroke="#2b2b2b" stroke-width="1.1"/>
<text x="257.30" y="590.10" font-size="8.4" text-anchor="end" textLength="9.00" lengthAdjust="spacingAndGlyphs">30</text>
<line x1="257.60" y1="624.60" x2="260.00" y2="624.60" stroke="#2b2b2b" stroke-width="1.1"/>
<text x="257.30" y="627.90" font-size="8.4" text-anchor="end" textLength="9.00" lengthAdjust="spacingAndGlyphs">20</text>
<line x1="257.60" y1="662.40" x2="260.00" y2="662.40" stroke="#2b2b2b" stroke-width="1.1"/>
<text x="257.30" y="665.70" font-size="8.4" text-anchor="end" textLength="9.00" lengthAdjust="spacingAndGlyphs">10</text>
<line x1="257.60" y1="700.20" x2="260.00" y2="700.20" stroke="#2b2b2b" stroke-width="1.1"/>
<text x="257.30" y="703.50" font-size="8.4" text-anchor="end" textLength="4.30" lengthAdjust="spacingAndGlyphs">0</text>
<text x="278.95" y="710.40" font-size="8.2" text-anchor="middle" textLength="11.30" lengthAdjust="spacingAndGlyphs">0.0</text>
<text x="323.30" y="710.40" font-size="8.2" text-anchor="middle" textLength="11.30" lengthAdjust="spacingAndGlyphs">2.0</text>
<text x="367.65" y="710.40" font-size="8.2" text-anchor="middle" textLength="15.60" lengthAdjust="spacingAndGlyphs">20.0</text>
<text x="412.00" y="710.40" font-size="8.2" text-anchor="middle" textLength="20.40" lengthAdjust="spacingAndGlyphs">100.0</text>
<text x="294.60" y="721.20" font-size="8.2" textLength="101.40" lengthAdjust="spacingAndGlyphs">DBP Concentration ( &#181;g/ml)</text>
<text x="244.1" y="676.4" font-size="8.2" textLength="74.2" lengthAdjust="spacingAndGlyphs" transform="rotate(-90 244.1 676.4)" fill="#1a1a1a">IFN&#947;<tspan font-size="5.6" dy="-3.8">+</tspan><tspan dy="3.8"> frequency (%)</tspan></text>
<text x="323.80" y="571.70" font-size="12.2" font-weight="bold" textLength="24.20" lengthAdjust="spacingAndGlyphs">IFN<tspan font-weight="normal">&#947;</tspan></text>
<rect x="453.9" y="387.4" width="11.6" height="6.4" fill="#fff" stroke="#9a9a9a" stroke-width="1"/>
<rect x="453.9" y="400.1" width="11.6" height="6.6" fill="url(#hatch)" stroke="#9a9a9a" stroke-width="1"/>
<rect x="453.4" y="411.7" width="12.6" height="7.8" fill="#000"/>
<text x="467.70" y="393.70" font-size="8.8" textLength="37.10" lengthAdjust="spacingAndGlyphs">untreated</text>
<text x="467.8" y="406.2" font-size="8.8" textLength="40.0" lengthAdjust="spacingAndGlyphs" fill="#1a1a1a">25(OH)D<tspan font-size="6.2" dy="2.2">3</tspan></text>
<text x="468.4" y="417.8" font-size="8.8" textLength="50.6" lengthAdjust="spacingAndGlyphs" fill="#1a1a1a">1,25(OH)<tspan font-size="6.2" dy="2.2">2</tspan><tspan dy="-2.2">D</tspan><tspan font-size="6.2" dy="2.2">3</tspan></text>
</svg>
</body></html>
